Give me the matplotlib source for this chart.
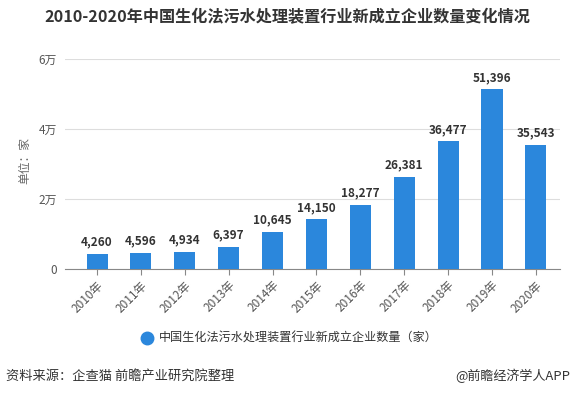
import matplotlib.pyplot as plt
from matplotlib.lines import Line2D

plt.rcParams['font.family'] = ['Noto Sans CJK SC', 'DejaVu Sans']

years = ['2010年', '2011年', '2012年', '2013年', '2014年', '2015年',
         '2016年', '2017年', '2018年', '2019年', '2020年']
counts = [4260, 4596, 4934, 6397, 10645, 14150, 18277, 26381, 36477, 51396, 35543]
yticks = [0, 20000, 40000, 60000]
ytick_labels = ['0', '2万', '4万', '6万']

bar_color = '#2B87DC'

fig = plt.figure(figsize=(5.74, 3.94), dpi=100)
fig.patch.set_facecolor('white')
ax = fig.add_axes([65 / 574, 1 - 269 / 394, (560 - 65) / 574, (269 - 59) / 394])

x = list(range(len(years)))
ax.bar(x, counts, width=0.48, color=bar_color, zorder=3)

for xi, v in zip(x, counts):
    ax.text(xi, v + 1500, f'{v:,}', ha='center', va='bottom',
            fontsize=8.5, fontweight='bold', color='#333333')

ax.set_ylim(0, 60000)
ax.set_xlim(-0.73, 10.55)
ax.set_yticks(yticks)
ax.set_yticklabels(ytick_labels, fontsize=8.5, color='#555555')
ax.yaxis.grid(True, color='#dddddd', linewidth=0.8, zorder=0)
ax.tick_params(axis='y', length=0, pad=6)

ax.set_xticks(x)
ax.set_xticklabels(years, rotation=45, ha='right', rotation_mode='anchor',
                   fontsize=8.5, color='#555555')
ax.tick_params(axis='x', length=4, color='#888888', pad=3)

for s in ['top', 'right', 'left']:
    ax.spines[s].set_visible(False)
ax.spines['bottom'].set_color('#888888')

fig.text(25 / 574, 1 - 160 / 394, '单位：家', rotation=90, ha='center', va='center',
         fontsize=8.5, color='#666666')

fig.text(0.5, 1 - 17 / 394,
         '2010-2020年中国生化法污水处理装置行业新成立企业数量变化情况',
         ha='center', va='center', fontsize=11.6, fontweight='bold', color='#333333')

# legend
fig.lines.append(Line2D([147 / 574], [1 - 338 / 394], marker='o', markersize=9,
                        color=bar_color, transform=fig.transFigure))
fig.text(159 / 574, 1 - 338 / 394, '中国生化法污水处理装置行业新成立企业数量（家）',
         ha='left', va='center', fontsize=8.7, color='#333333')

fig.text(6 / 574, 1 - 376 / 394, '资料来源：企查猫 前瞻产业研究院整理',
         ha='left', va='center', fontsize=9.5, color='#333333')
fig.text(570 / 574, 1 - 376 / 394, '@前瞻经济学人APP',
         ha='right', va='center', fontsize=9.4, color='#333333')

fig.savefig('out.png', dpi=100)
